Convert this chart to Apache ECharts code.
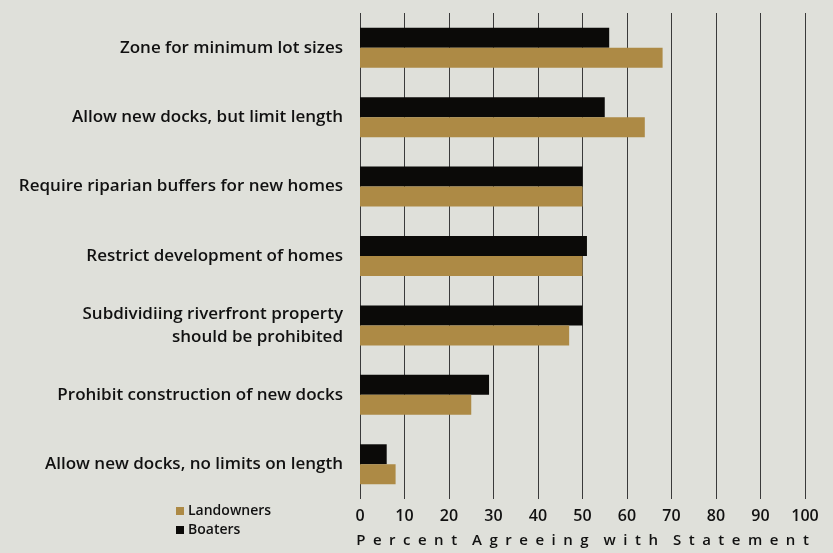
<!DOCTYPE html>
<html><head><meta charset="utf-8">
<script src="https://cdn.jsdelivr.net/npm/echarts@6/dist/echarts.min.js"></script>
<style>html,body{margin:0;padding:0;background:#dfe0da;}#c{width:833px;height:553px;}</style>
</head><body><div id="c"></div>
<script>
const categories = [
  "Zone for minimum lot sizes",
  "Allow new docks, but limit length",
  "Require riparian buffers for new homes",
  "Restrict development of homes",
  "Subdividiing riverfront property\nshould be prohibited",
  "Prohibit construction of new docks",
  "Allow new docks, no limits on length"
];
const boaters = [56, 55, 50, 51, 50, 29, 6];
const landowners = [68, 64, 50, 50, 47, 25, 8];
const xTicks = [0, 10, 20, 30, 40, 50, 60, 70, 80, 90, 100];
const axisTitle = "Percent Agreeing with Statement";

const spaced = axisTitle.split(' ').map(w => w.split('').join('\u2002')).join('\u2003');

const chart = echarts.init(document.getElementById('c'), null, {renderer: 'canvas'});
const font = '"Open Sans", sans-serif';
chart.setOption({
  backgroundColor: '#dfe0da',
  animation: false,
  grid: { left: 360, right: 28, top: 13, height: 488 },
  xAxis: {
    type: 'value', min: 0, max: 100, interval: 10,
    axisLine: { show: false }, axisTick: { show: false },
    splitLine: { show: true, lineStyle: { color: '#3a3a3a', width: 1 } },
    axisLabel: { color: '#111', fontFamily: font, fontSize: 16, fontWeight: 600, margin: 9,
      formatter: v => xTicks.includes(v) ? String(v) : '' },
    name: spaced,
    nameLocation: 'middle', nameGap: 34,
    nameTextStyle: { color: '#111', fontFamily: font, fontSize: 15, fontWeight: 600 }
  },
  yAxis: {
    type: 'category', data: categories, inverse: true,
    axisLine: { show: false }, axisTick: { show: false },
    axisLabel: { color: '#111', fontFamily: font, fontSize: 17, fontWeight: 600, margin: 17, align: 'right', lineHeight: 23 }
  },
  legend: {
    orient: 'vertical', left: 171, top: 499, itemWidth: 8, itemHeight: 8, itemGap: 5,
    icon: 'rect',
    data: ['Landowners', 'Boaters'],
    textStyle: { color: '#111', fontFamily: font, fontSize: 14, fontWeight: 600, padding: [0,0,0,-1] }
  },
  series: [
    { name: 'Boaters', type: 'bar', data: boaters, barWidth: 20, barGap: '0%',
      itemStyle: { color: '#0b0a08' } },
    { name: 'Landowners', type: 'bar', data: landowners, barWidth: 20, barGap: '0%',
      itemStyle: { color: '#ad8a45' } }
  ]
});
</script></body></html>
